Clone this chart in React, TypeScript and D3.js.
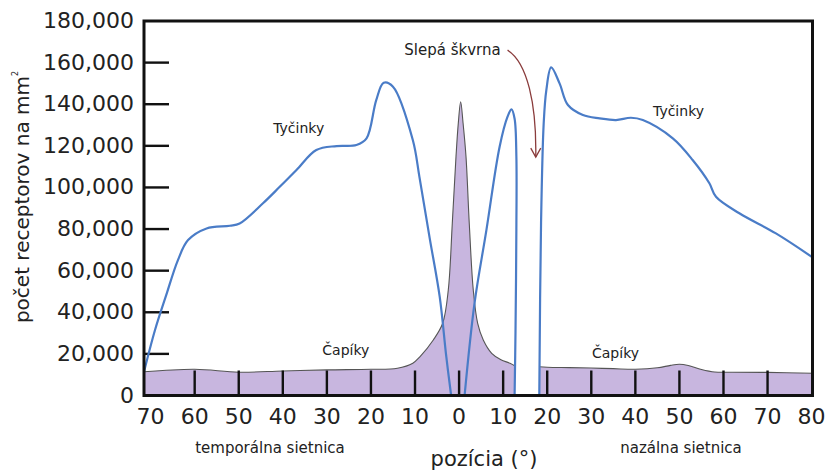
import React from "react";
import * as d3 from "d3";

// Degrees from the fovea: negative = temporal retina, positive = nasal retina
const conesTemporalPos = [-71.5, -60, -50, -40, -30, -20, -14, -10.5, -8.9, -5.85, -3.72, -2.45, -1.54, -0.7, -0.18, 0.36, 0.9, 1.57, 2.31, 3.22, 4.22, 5.49, 7.4, 9.5, 11.55, 12.7];
const conesTemporalVal = [11400, 12600, 11200, 11800, 12300, 12600, 13100, 15500, 18600, 26700, 34700, 50700, 82800, 114800, 130800, 141200, 131000, 114800, 82800, 50700, 34700, 26700, 20300, 17200, 15500, 14200];

const conesNasalPos = [18.2, 20, 25, 30, 35, 40, 45, 48, 50, 52, 55, 58, 62, 70, 80.2];
const conesNasalVal = [13800, 13600, 13400, 13200, 12900, 12600, 13300, 14500, 15000, 14400, 12500, 11300, 11200, 11100, 10700];

const rodsTemporalPos = [-71.5, -69, -66.5, -63.8, -61.5, -57.3, -52, -49.8, -44.5, -40.7, -36.9, -32.4, -27.8, -23.3, -21, -18.8, -17.1, -15, -10.5, -9, -6.7, -4.4, -2.9, -1.8];
const rodsTemporalVal = [11400, 31500, 48000, 65100, 74700, 80300, 81600, 82700, 92400, 100300, 108400, 118000, 119900, 120400, 123600, 142000, 150300, 148400, 122800, 105100, 76000, 47500, 18650, 0];

const rodsCentralPos = [1.25, 3.5, 6.2, 9.2, 11.0, 11.9, 12.6, 13.0, 13.0, 12.8, 12.6];
const rodsCentralVal = [0, 44300, 79500, 119600, 134000, 137500, 133000, 115000, 80000, 30000, 0];

const rodsNasalPos = [18.2, 18.6, 19.2, 19.8, 20.9, 22.8, 24.7, 28.1, 31.9, 35.6, 39.0, 41.7, 48.5, 53.0, 56.8, 58.3, 63.6, 71.9, 80.2];
const rodsNasalVal = [0, 82700, 130800, 146800, 157700, 150000, 139600, 134800, 133200, 132400, 133500, 132400, 123600, 113200, 102000, 95500, 87600, 77900, 66400];

const xTickLabels = [-70, -60, -50, -40, -30, -20, -10, 0, 10, 20, 30, 40, 50, 60, 70, 80];
const xInnerTicks = [-60, -50, -40, -30, -20, -10, 0, 10, 20, 30, 40, 50, 60, 70];
const yTickValues = [0, 20000, 40000, 60000, 80000, 100000, 120000, 140000, 160000, 180000];

const zip = (p: number[], v: number[]) => p.map((d, i) => [d, v[i]] as [number, number]);

const FONT = "DejaVu Sans, Verdana, sans-serif";
const TEXT = "#222";
const BLUE = "#4a7cc7";
const LAVENDER = "#c8b6df";

export default function App() {
  const width = 827;
  const height = 472;
  const x = d3.scaleLinear().domain([-71.5, 80.2]).range([144, 812.5]);
  const y = d3.scaleLinear().domain([0, 180000]).range([395.5, 21]);

  const coneCurve = d3.curveCatmullRom.alpha(0.5);
  const area = d3
    .area<[number, number]>()
    .x((d) => x(d[0]))
    .y0(y(0))
    .y1((d) => y(d[1]))
    .curve(coneCurve);
  const coneLine = d3
    .line<[number, number]>()
    .x((d) => x(d[0]))
    .y((d) => y(d[1]))
    .curve(coneCurve);
  const rodLine = d3
    .line<[number, number]>()
    .x((d) => x(d[0]))
    .y((d) => y(d[1]))
    .curve(d3.curveCatmullRom.alpha(0.5));

  const conesT = zip(conesTemporalPos, conesTemporalVal);
  const conesN = zip(conesNasalPos, conesNasalVal);
  const rodsSegments = [
    zip(rodsTemporalPos, rodsTemporalVal),
    zip(rodsCentralPos, rodsCentralVal),
    zip(rodsNasalPos, rodsNasalVal),
  ];

  const fmt = d3.format(",");
  const [x0, x1] = x.range();
  const [yb, yt] = y.range();

  // blind spot arrow, anchored in data space
  const a0 = [x(11), y(166000)];
  const a1 = [x(15.5), y(160000)];
  const a2 = [x(17.6), y(140000)];
  const tip = [x(17.4), y(114600)];

  return (
    <svg
      width={width}
      height={height}
      style={{ position: "absolute", left: 0, top: 0, background: "#fff" }}
      fontFamily={FONT}
    >
      {/* cone density */}
      <path d={area(conesT) || ""} fill={LAVENDER} />
      <path d={area(conesN) || ""} fill={LAVENDER} />
      <path d={coneLine(conesT) || ""} fill="none" stroke="#555" strokeWidth={1.1} />
      <path d={coneLine(conesN) || ""} fill="none" stroke="#555" strokeWidth={1.1} />

      {/* inner x ticks */}
      {xInnerTicks.map((v) => (
        <line key={v} x1={x(v)} x2={x(v)} y1={yb} y2={yb - 25} stroke="#111" strokeWidth={2.4} />
      ))}

      {/* y ticks */}
      {yTickValues
        .filter((v) => v > 0 && v < 180000)
        .map((v) => (
          <line key={v} x1={x0} x2={x0 + 25} y1={y(v)} y2={y(v)} stroke="#111" strokeWidth={2.4} />
        ))}

      {/* rod density */}
      {rodsSegments.map((seg, i) => (
        <path key={i} d={rodLine(seg) || ""} fill="none" stroke={BLUE} strokeWidth={2.2} />
      ))}

      {/* frame */}
      <rect x={x0} y={yt} width={x1 - x0} height={yb - yt} fill="none" stroke="#111" strokeWidth={3} />

      {/* y tick labels */}
      {yTickValues.map((v) => (
        <text key={v} x={134} y={y(v) + 7} textAnchor="end" fontSize={22} fill={TEXT}>
          {fmt(v)}
        </text>
      ))}

      {/* x tick labels */}
      {xTickLabels.map((v) => (
        <text key={v} x={Math.max(x(v), x0)} y={424} textAnchor="middle" fontSize={22} fill={TEXT}>
          {Math.abs(v)}
        </text>
      ))}

      {/* axis titles */}
      <text transform="translate(29,197) rotate(-90)" textAnchor="middle" fontSize={20} fill={TEXT}>
        počet receptorov na mm
        <tspan fontSize={8} dy={-11}>2</tspan>
      </text>
      <text x={484} y={466} textAnchor="middle" fontSize={21} fill={TEXT}>
        pozícia (°)
      </text>
      <text x={270} y={453} textAnchor="middle" fontSize={15} fill={TEXT}>
        temporálna sietnica
      </text>
      <text x={681} y={453} textAnchor="middle" fontSize={15} fill={TEXT}>
        nazálna sietnica
      </text>

      {/* series labels */}
      <text x={x(-36.4)} y={y(126300)} textAnchor="middle" fontSize={14} fill={TEXT}>Tyčinky</text>
      <text x={x(49.8)} y={y(134500)} textAnchor="middle" fontSize={14} fill={TEXT}>Tyčinky</text>
      <text x={x(-25.7)} y={y(19500)} textAnchor="middle" fontSize={14} fill={TEXT}>Čapíky</text>
      <text x={x(35.5)} y={y(17900)} textAnchor="middle" fontSize={14} fill={TEXT}>Čapíky</text>

      {/* blind spot annotation */}
      <text x={x(-1.5)} y={y(163600)} textAnchor="middle" fontSize={15} fill={TEXT}>Slepá škvrna</text>
      <path
        d={`M${a0[0]},${a0[1]} C${a1[0]},${a1[1]} ${a2[0]},${a2[1]} ${tip[0]},${tip[1]}`}
        fill="none"
        stroke="#8a3c3c"
        strokeWidth={1.3}
      />
      <path
        d={`M${tip[0] - 5},${tip[1] - 9} L${tip[0]},${tip[1]} L${tip[0] + 5},${tip[1] - 9}`}
        fill="none"
        stroke="#8a3c3c"
        strokeWidth={1.3}
      />
    </svg>
  );
}
